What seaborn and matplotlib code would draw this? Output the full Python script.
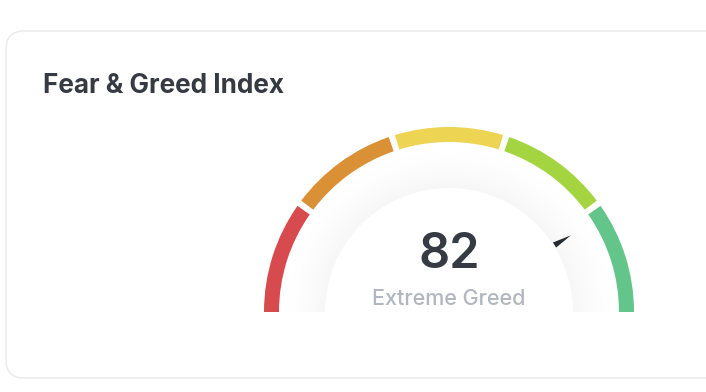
import numpy as np
import matplotlib
matplotlib.use("Agg")
import matplotlib.pyplot as plt
from matplotlib.patches import Wedge, Polygon, FancyBboxPatch, Rectangle
import seaborn as sns

# gauge data
band_edges = [0, 20, 40, 60, 80, 100]
band_colors = ["#d74a4d", "#da9034", "#edd453", "#a4d440", "#63c58a"]
value = 82
value_label = "Extreme Greed"
title = "Fear & Greed Index"

sns.set_theme(style="white")
plt.rcParams["font.family"] = ["Inter", "DejaVu Sans"]

fig = plt.figure(figsize=(7.06, 3.92), dpi=100)
ax = fig.add_axes([0, 0, 1, 1])
ax.set_xlim(0, 706)
ax.set_ylim(392, 0)
ax.set_aspect("equal")
ax.axis("off")

# card
card = FancyBboxPatch((6, 31), 740, 347, boxstyle="round,pad=0,rounding_size=18",
                      facecolor="white", edgecolor="#e9e9ea", lw=1.0)
ax.add_patch(card)
ax.text(43, 86, title, fontsize=18.8, fontweight="bold", color="#363a42",
        ha="left", va="center")

cx, cy = 449, 312
r_out, r_in, r_face = 185, 170, 124


def to_angle(v):
    # value 0 -> left (180 deg), 100 -> right (0 deg); y axis is flipped
    return -(180 - v * 1.8)


# soft shadow ring around the inner face
for i, r in enumerate(np.linspace(r_face + 42, r_face, 24)):
    shade = 1 - 0.035 * ((i + 1) / 24) ** 1.5
    ax.add_patch(Wedge((cx, cy), r, 180, 360,
                       facecolor=(shade, shade, min(1, shade + 0.003)),
                       edgecolor="none"))
ax.add_patch(Wedge((cx, cy), r_face, 180, 360, facecolor="white", edgecolor="none"))

# coloured bands with small gaps
gap = 1.0
for lo, hi, col in zip(band_edges[:-1], band_edges[1:], band_colors):
    a1, a2 = to_angle(lo), to_angle(hi)
    t1 = a1 + (gap if lo > 0 else 0)
    t2 = a2 - (gap if hi < 100 else 0)
    ax.add_patch(Wedge((cx, cy), r_out, t1, t2, width=r_out - r_in,
                       facecolor=col, edgecolor="none"))

# needle
th = np.deg2rad(to_angle(value))
ux, uy = np.cos(th), np.sin(th)
px, py = -uy, ux
r0, r1, hw = 125, 144, 3.0
pts = [(cx + r0 * ux + hw * px, cy + r0 * uy + hw * py),
       (cx + r0 * ux - hw * px, cy + r0 * uy - hw * py),
       (cx + r1 * ux + 0.6 * px, cy + r1 * uy + 0.6 * py)]
ax.add_patch(Polygon(pts, closed=True, facecolor="#262a31", edgecolor="none"))

# clip below the centre line
ax.add_patch(Rectangle((250, cy), 400, 60, facecolor="white", edgecolor="none"))

ax.text(cx, 255, str(value), fontsize=35, fontweight="semibold", color="#363a43",
        ha="center", va="center")
ax.text(cx, 299, value_label, fontsize=15.5, fontweight="medium", color="#b1b6bf",
        ha="center", va="center")

fig.savefig("out.png", dpi=100, facecolor="white")
